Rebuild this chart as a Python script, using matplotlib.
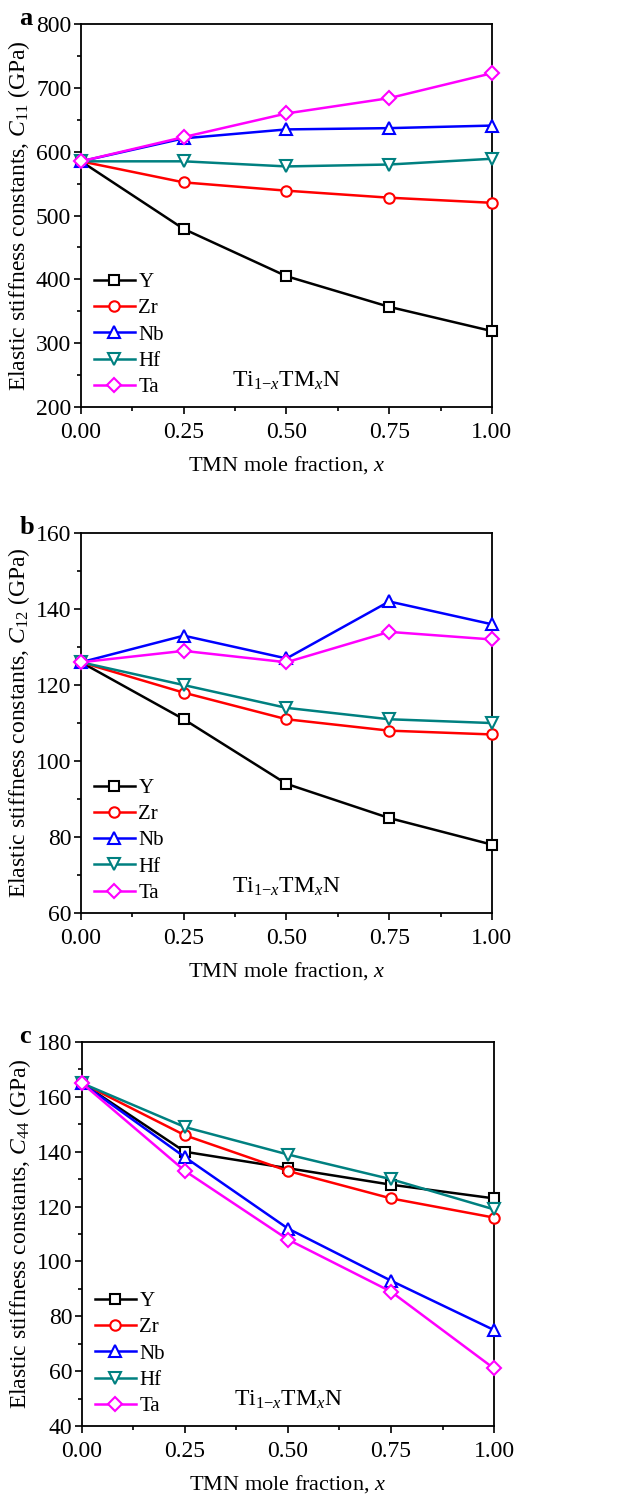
import matplotlib
matplotlib.use("Agg")
import matplotlib.pyplot as plt
from matplotlib.ticker import MultipleLocator

plt.rcParams['font.family'] = ['Liberation Serif', 'DejaVu Serif']
plt.rcParams['mathtext.fontset'] = 'custom'
plt.rcParams['mathtext.rm'] = 'Liberation Serif'
plt.rcParams['mathtext.it'] = 'Liberation Serif:italic'

# composition x of Ti(1-x)TM(x)N
x = [0.0, 0.25, 0.50, 0.75, 1.00]
names = ['Y', 'Zr', 'Nb', 'Hf', 'Ta']

# C11 (GPa)
c11_Y = [585, 479, 405, 357, 319]
c11_Zr = [585, 552, 539, 528, 520]
c11_Nb = [585, 621, 635, 637, 641]
c11_Hf = [585, 585, 577, 580, 589]
c11_Ta = [585, 623, 660, 684, 723]

# C12 (GPa)
c12_Y = [126, 111, 94, 85, 78]
c12_Zr = [126, 118, 111, 108, 107]
c12_Nb = [126, 133, 127, 142, 136]
c12_Hf = [126, 120, 114, 111, 110]
c12_Ta = [126, 129, 126, 134, 132]

# C44 (GPa)
c44_Y = [165, 140, 134, 128, 123]
c44_Zr = [165, 146, 133, 123, 116]
c44_Nb = [165, 138, 112, 93, 75]
c44_Hf = [165, 149, 139, 130, 119]
c44_Ta = [165, 133, 108, 89, 61]

colors = ['black', '#ff0000', '#0000ff', '#008080', '#ff00ff']
markers = ['s', 'o', '^', 'v', 'D']
msizes = [7.0, 7.5, 8.5, 8.5, 7.0]

panels = [
    ('a', '11', [c11_Y, c11_Zr, c11_Nb, c11_Hf, c11_Ta], (200, 800), 100, 50,
     [0.127, 0.7281, 0.644, 0.2558]),
    ('b', '12', [c12_Y, c12_Zr, c12_Nb, c12_Hf, c12_Ta], (60, 160), 20, 10,
     [0.127, 0.3901, 0.644, 0.2538]),
    ('c', '44', [c44_Y, c44_Zr, c44_Nb, c44_Hf, c44_Ta], (40, 180), 20, 10,
     [0.1285, 0.0474, 0.6458, 0.2565]),
]

fig = plt.figure(figsize=(6.38, 14.97), dpi=100)

for tag, sub, series, ylim, major, minor, pos in panels:
    ax = fig.add_axes(pos)
    for vals, name, col, mk, ms in zip(series, names, colors, markers, msizes):
        ax.plot(x, vals, color=col, lw=1.8, marker=mk, ms=ms, mfc='white',
                mec=col, mew=1.5, label=name, clip_on=False, zorder=3)
    ax.set_xlim(0, 1)
    ax.set_ylim(*ylim)
    ax.xaxis.set_major_locator(MultipleLocator(0.25))
    ax.xaxis.set_minor_locator(MultipleLocator(0.125))
    ax.yaxis.set_major_locator(MultipleLocator(major))
    ax.yaxis.set_minor_locator(MultipleLocator(minor))
    ax.xaxis.set_major_formatter(plt.FuncFormatter(lambda v, p: '%.2f' % v))
    ax.tick_params(which='both', direction='out', top=False, right=False,
                   labelsize=17, width=1.2)
    ax.tick_params(axis='x', pad=6)
    ax.tick_params(axis='y', pad=2)
    ax.tick_params(which='major', length=5)
    ax.tick_params(which='minor', length=3)
    for s in ax.spines.values():
        s.set_linewidth(1.3)
    ax.set_xlabel(r'TMN mole fraction, $\mathit{x}$', fontsize=16, labelpad=8)
    ax.set_ylabel(r'Elastic stiffness constants, $\mathit{C}_{' + sub + r'}$ (GPa)',
                  fontsize=17, labelpad=3)
    ax.legend(loc='lower left', bbox_to_anchor=(-0.005, -0.012), frameon=False,
              fontsize=15, handlelength=2.0, handletextpad=0.15,
              labelspacing=0.32, borderaxespad=0.3)
    ax.text(0.5, 0.04, r'Ti$_{1\mathrm{-}\mathit{x}}$TM$_{\mathit{x}}$N',
            transform=ax.transAxes, ha='center', va='bottom', fontsize=17)
    fig.text(0.03, pos[1] + pos[3] + 0.004, tag, fontsize=19, fontweight='bold',
             ha='left', va='center')

fig.savefig('out.png', dpi=100)
